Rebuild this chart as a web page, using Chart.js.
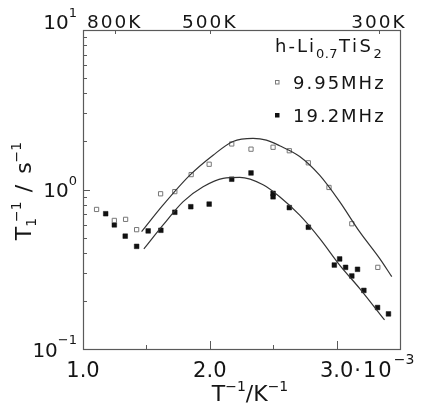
<!DOCTYPE html>
<html>
<head>
<meta charset="utf-8">
<script src="https://cdn.jsdelivr.net/npm/chart.js@4/dist/chart.umd.min.js"></script>
<style>
  html, body { margin: 0; padding: 0; background: #fff; }
  #wrap { width: 422px; height: 404px; }
</style>
</head>
<body>
<div id="wrap"><canvas id="c" width="422" height="404"></canvas></div>
<script>
// Relaxation rate T1^-1 (s^-1) of h-Li0.7TiS2 versus inverse temperature (10^-3 K^-1)
const invT995 = [1.107, 1.247, 1.336, 1.423, 1.612, 1.724, 1.853, 1.995, 2.173, 2.325, 2.499, 2.627, 2.777, 2.940, 3.120, 3.325];
const rate995 = [0.75, 0.64, 0.65, 0.56, 0.94, 0.97, 1.24, 1.44, 1.93, 1.79, 1.84, 1.75, 1.47, 1.03, 0.61, 0.325];

const invT192 = [1.179, 1.247, 1.333, 1.423, 1.514, 1.614, 1.724, 1.850, 1.995, 2.173, 2.325, 2.499, 2.499, 2.627, 2.777, 2.982, 3.024, 3.071, 3.120, 3.165, 3.215, 3.323, 3.409];
const rate192 = [0.705, 0.60, 0.51, 0.44, 0.55, 0.555, 0.72, 0.78, 0.81, 1.16, 1.27, 0.946, 0.90, 0.77, 0.58, 0.336, 0.367, 0.325, 0.287, 0.316, 0.233, 0.182, 0.166];

// fitted curves
const fitInvT995 = [1.462, 1.632, 1.843, 2.026, 2.183, 2.341, 2.446, 2.551, 2.709, 2.866, 3.024, 3.181, 3.339, 3.435];
const fitRate995 = [0.544, 0.80, 1.23, 1.64, 2.00, 2.09, 2.04, 1.88, 1.61, 1.23, 0.84, 0.544, 0.37, 0.284];
const fitInvT192 = [1.480, 1.632, 1.790, 1.947, 2.105, 2.236, 2.420, 2.551, 2.709, 2.866, 3.024, 3.181, 3.378];
const fitRate192 = [0.424, 0.60, 0.84, 1.04, 1.175, 1.19, 1.07, 0.90, 0.69, 0.494, 0.336, 0.240, 0.152];

// axes
const bottomTickValues = [1.0, 2.0, 3.0];
const bottomTickLabels = ['1.0', '2.0', '3.0'];
const bottomMinorTicks = [1.5, 2.5];
const topTempsK = [800, 500, 300];
const decadeExps = [-1, 0, 1];
const seriesNames = ['9.95MHz', '19.2MHz'];

const FONT = '"DejaVu Sans", sans-serif';
const INK = '#151515';
const FRAME = '#5a5a5a';

const zip = (xs, ys) => xs.map((x, i) => ({ x, y: ys[i] }));

function partWidth(ctx, p) {
  ctx.font = `${p.size}px ${FONT}`;
  ctx.letterSpacing = '0px';
  return ctx.measureText(p.t).width + (p.ls || 0) * p.t.length;
}
function runWidth(ctx, parts) {
  let w = 0;
  for (const p of parts) w += (p.dx || 0) + partWidth(ctx, p);
  return w;
}
function drawRun(ctx, parts, x, y, align) {
  const w = runWidth(ctx, parts);
  let cx = align === 'center' ? x - w / 2 : align === 'right' ? x - w : x;
  ctx.textAlign = 'left';
  ctx.textBaseline = 'alphabetic';
  for (const p of parts) {
    cx += p.dx || 0;
    const pw = partWidth(ctx, p);
    ctx.font = `${p.size}px ${FONT}`;
    ctx.letterSpacing = (p.ls || 0) + 'px';
    ctx.fillText(p.t, cx, y + (p.dy || 0));
    cx += pw;
  }
  ctx.letterSpacing = '0px';
}

const frameAndText = {
  id: 'frameAndText',
  afterDraw(chart) {
    const { ctx, chartArea: a, scales } = chart;
    const xs = scales.x, ys = scales.y;
    ctx.save();

    // frame
    ctx.strokeStyle = FRAME;
    ctx.lineWidth = 1.2;
    ctx.strokeRect(Math.round(a.left) + 0.5, Math.round(a.top) + 0.5,
                   Math.round(a.right - a.left), Math.round(a.bottom - a.top));

    // inward tick marks
    ctx.lineWidth = 1;
    ctx.beginPath();
    for (const e of [-1, 0]) {
      for (let m = 1; m <= 9; m++) {
        const v = m * Math.pow(10, e);
        const py = Math.round(ys.getPixelForValue(v)) + 0.5;
        const len = m === 1 ? 7 : 4;
        ctx.moveTo(a.left, py); ctx.lineTo(a.left + len, py);
      }
    }
    for (const v of bottomTickValues) {
      const px = Math.round(xs.getPixelForValue(v)) + 0.5;
      ctx.moveTo(px, a.bottom); ctx.lineTo(px, a.bottom - 8);
    }
    for (const v of bottomMinorTicks) {
      const px = Math.round(xs.getPixelForValue(v)) + 0.5;
      ctx.moveTo(px, a.bottom); ctx.lineTo(px, a.bottom - 4);
    }
    for (const T of topTempsK) {
      const px = Math.round(xs.getPixelForValue(1000 / T)) + 0.5;
      ctx.moveTo(px, a.top); ctx.lineTo(px, a.top + 4);
    }
    ctx.stroke();

    ctx.fillStyle = INK;

    // y tick labels 10^n
    for (const e of decadeExps) {
      const py = ys.getPixelForValue(Math.pow(10, e));
      const base = e === 1 ? py - 1 : py + 7.5;
      const sup = e < 0 ? '\u2212' + Math.abs(e) : String(e);
      drawRun(ctx, [
        { t: '10', size: 20 },
        { t: sup, size: 13, dy: -12.5 }
      ], a.left - 6, base, 'right');
    }

    // bottom tick labels
    bottomTickValues.forEach((v, i) => {
      const px = xs.getPixelForValue(v);
      ctx.font = `21px ${FONT}`;
      ctx.textAlign = 'center';
      ctx.fillText(bottomTickLabels[i], px, a.bottom + 28);
      if (i === bottomTickValues.length - 1) {
        const half = partWidth(ctx, { t: bottomTickLabels[i], size: 21 }) / 2;
        drawRun(ctx, [
          { t: '\u00b710', size: 21, ls: 2 },
          { t: '\u22123', size: 14, dy: -13 }
        ], px + half + 1, a.bottom + 28, 'left');
      }
    });

    // top temperature labels
    for (const T of topTempsK) {
      const px = xs.getPixelForValue(1000 / T);
      drawRun(ctx, [{ t: T + 'K', size: 18.5, ls: 2 }], px, a.top - 2, 'center');
    }

    // axis titles
    drawRun(ctx, [
      { t: 'T', size: 22 },
      { t: '\u22121', size: 14, dy: -10 },
      { t: '/', size: 22 },
      { t: 'K', size: 22 },
      { t: '\u22121', size: 14, dy: -10 }
    ], 250, 401, 'center');

    ctx.save();
    ctx.translate(31, 191);
    ctx.rotate(-Math.PI / 2);
    drawRun(ctx, [
      { t: 'T', size: 22 },
      { t: '1', size: 14, dy: 5 },
      { t: '\u22121', size: 14, dy: -10, dx: -4 },
      { t: ' / ', size: 22, ls: 2 },
      { t: 's', size: 22 },
      { t: '\u22121', size: 14, dy: -10 }
    ], 0, 0, 'center');
    ctx.restore();

    // legend
    drawRun(ctx, [
      { t: 'h-Li', size: 18, ls: 2 },
      { t: '0.7', size: 13, ls: 0.5, dy: 6 },
      { t: 'TiS', size: 18, ls: 2.5, dx: 1 },
      { t: '2', size: 13, dy: 6 }
    ], 275, 52, 'left');

    const legendRows = [
      { y: 82, fill: '#fff', stroke: '#7a7a7a' },
      { y: 115, fill: '#111', stroke: '#111' }
    ];
    legendRows.forEach((r, i) => {
      ctx.fillStyle = r.fill;
      ctx.strokeStyle = r.stroke;
      ctx.lineWidth = 1;
      ctx.fillRect(275, r.y - 2, 4, 4);
      ctx.strokeRect(275.5, r.y - 1.5, 3.5, 3.5);
      ctx.fillStyle = INK;
      drawRun(ctx, [{ t: seriesNames[i], size: 18, ls: 2 }], 293, r.y + 6.5, 'left');
    });

    ctx.restore();
  }
};

new Chart(document.getElementById('c'), {
  type: 'scatter',
  data: {
    datasets: [
      {
        label: 'fit 9.95MHz', data: zip(fitInvT995, fitRate995), showLine: true,
        pointRadius: 0, borderColor: '#333', borderWidth: 1.2,
        cubicInterpolationMode: 'monotone', fill: false
      },
      {
        label: 'fit 19.2MHz', data: zip(fitInvT192, fitRate192), showLine: true,
        pointRadius: 0, borderColor: '#333', borderWidth: 1.2,
        cubicInterpolationMode: 'monotone', fill: false
      },
      {
        label: seriesNames[0], data: zip(invT995, rate995), pointStyle: 'rect',
        pointRadius: 3, backgroundColor: '#fff', borderColor: '#777', borderWidth: 1
      },
      {
        label: seriesNames[1], data: zip(invT192, rate192), pointStyle: 'rect',
        pointRadius: 3.3, backgroundColor: '#111', borderColor: '#111', borderWidth: 0.5
      }
    ]
  },
  options: {
    responsive: false,
    animation: false,
    devicePixelRatio: 1,
    layout: { padding: { left: 83, right: 22, top: 30, bottom: 55 } },
    scales: {
      x: { type: 'linear', min: 1.0, max: 3.5, display: false },
      y: { type: 'logarithmic', min: 0.1, max: 10, display: false }
    },
    plugins: { legend: { display: false }, tooltip: { enabled: false } }
  },
  plugins: [frameAndText]
});
</script>
</body>
</html>
